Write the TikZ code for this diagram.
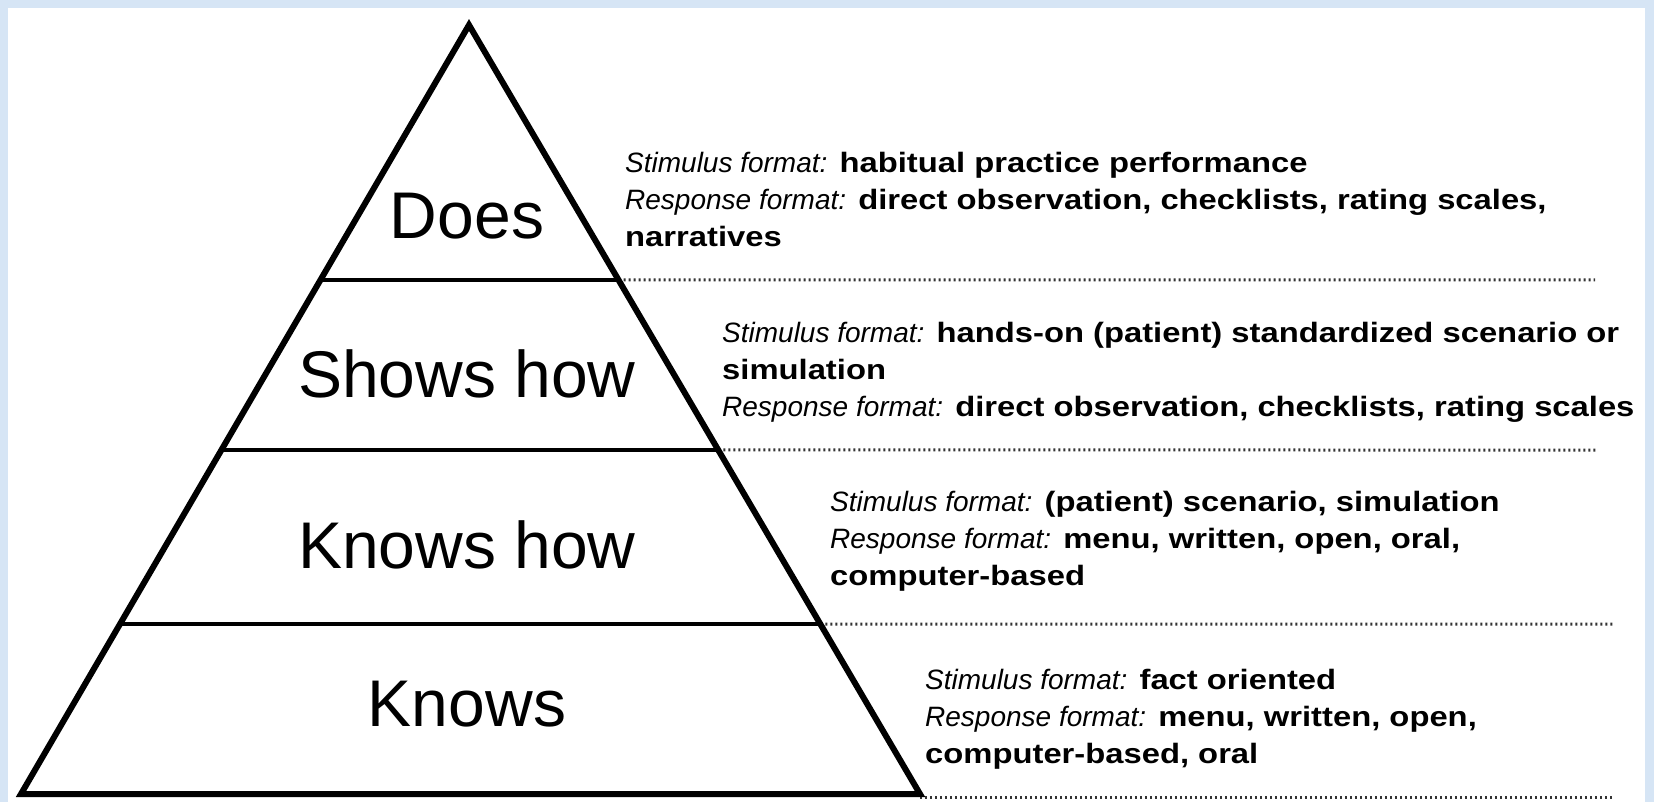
\documentclass[tikz,border=0pt]{standalone}
\usepackage{fontspec}
\setmainfont{Liberation Sans}
\newfontfamily\bodyfont[FakeStretch=1.17]{Liberation Sans}
\usetikzlibrary{calc}
\definecolor{frameblue}{rgb}{0.84,0.9,0.96}
\definecolor{dotgray}{rgb}{0.2,0.2,0.2}
\newcommand{\lead}[1]{{\normalfont\itshape #1}}

\begin{document}
\begin{tikzpicture}[x=1pt,y=-1pt,
  level/.style={inner sep=0pt,font=\fontsize{66}{66}\selectfont},
  info/.style={anchor=base west,align=left,inner sep=0pt,font=\bodyfont\bfseries\fontsize{28}{37}\selectfont},
  divider/.style={line width=4pt},
  sep/.style={dotgray,line width=3pt,dash pattern=on 2pt off 3pt}]
\useasboundingbox (0,0) rectangle (1654,802);
\fill[color=frameblue] (0,0) rectangle (1654,802);
\fill[color=white] (8,8) rectangle (1645,802);

\coordinate (apex) at (469,25);
\coordinate (bl) at (21,794);
\coordinate (br) at (920,794);

\foreach \y/\xend in {280/1595, 450/1598, 624/1614}
{
\pgfmathsetmacro{\t}{(\y-25)/769}
\draw[divider] ($(apex)!\t!(bl)$) -- ($(apex)!\t!(br)$) coordinate (r);
\draw[sep] (r) -- (\xend,\y);
}
\draw[sep] (br) ++(0,3) -- (1614,797);
\draw[line width=6pt, line join=miter] (apex) -- (br) -- (bl) -- cycle;

\node[level] (does) at (467,216) {Does};
\node[level] (shows) at (467,374) {Shows how};
\node[level] (knowshow) at (467,545) {Knows how};
\node[level] (knows) at (467,704) {Knows};

% base anchor sits on the last line
\node[info] (doesinfo) at (625,247) {\lead{Stimulus format:} habitual practice performance\\
\lead{Response format:} direct observation, checklists, rating scales,\\
narratives};
\node[info] (showsinfo) at (722,416) {\lead{Stimulus format:} hands-on (patient) standardized scenario or\\
simulation\\
\lead{Response format:} direct observation, checklists, rating scales};
\node[info] (knowshowinfo) at (830,585) {\lead{Stimulus format:} (patient) scenario, simulation\\
\lead{Response format:} menu, written, open, oral,\\
computer-based};
\node[info] (knowsinfo) at (925,763) {\lead{Stimulus format:} fact oriented\\
\lead{Response format:} menu, written, open,\\
computer-based, oral};
\end{tikzpicture}
\end{document}
